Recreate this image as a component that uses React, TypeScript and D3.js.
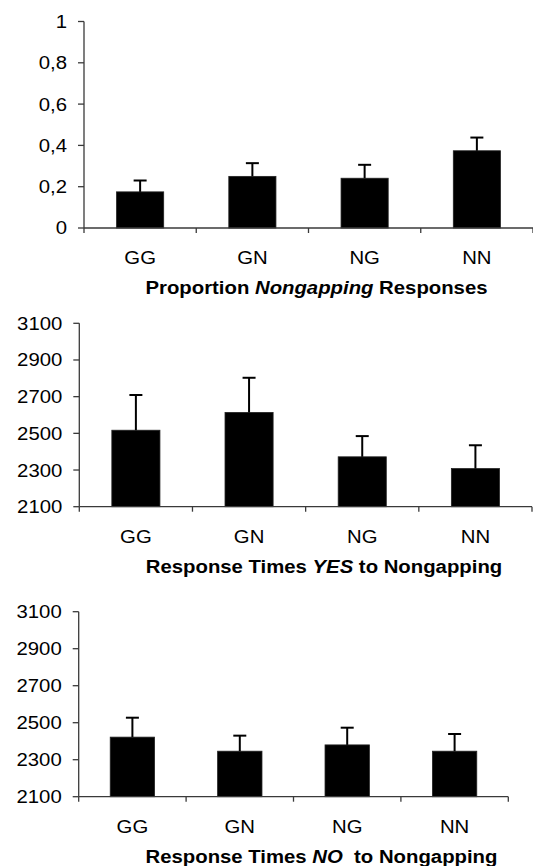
import React from 'react';
import * as d3 from 'd3';

const categories = ['GG', 'GN', 'NG', 'NN'];

// proportion of nongapping responses
const propMeans = [0.175, 0.25, 0.241, 0.374];
const propErrors = [0.055, 0.064, 0.065, 0.064];
const propTicks = [0, 0.2, 0.4, 0.6, 0.8, 1];

// response times, YES
const yesMeans = [2517, 2614, 2372, 2308];
const yesErrors = [192, 189, 113, 127];

// response times, NO
const noMeans = [2422, 2346, 2380, 2346];
const noErrors = [105, 84, 93, 93];

const rtTicks = [2100, 2300, 2500, 2700, 2900, 3100];

const FONT = '"Liberation Sans", Arial, Helvetica, sans-serif';
const FS = 18;      // font size
const SX = 1.13;    // the source picture is a bit stretched sideways
const commaFmt = d3.formatLocale({ decimal: ',', thousands: '.', grouping: [3], currency: ['', ''] }).format('~g');

type TitlePart = { text: string; italic?: boolean };

type PanelProps = {
  means: number[];
  errors: number[];
  domain: [number, number];
  ticks: number[];
  fmt: (v: number) => string;
  x0: number;
  x1: number;
  yTop: number;
  yBottom: number;
  pad: number;
  title: TitlePart[];
  titleX: number;
};

const at = (x: number, y: number) => `translate(${x},${y}) scale(${SX},1)`;

const Panel = ({ means, errors, domain, ticks, fmt, x0, x1, yTop, yBottom, pad, title, titleX }: PanelProps) => {
  const x = d3.scaleBand<string>().domain(categories).range([x0, x1]).paddingInner(pad).paddingOuter(pad / 2);
  const y = d3.scaleLinear().domain(domain).range([yBottom, yTop]);
  const step = x.step();
  const axisColor = '#3a3a3a';
  const cap = 6.5;

  return (
    <g>
      {/* bars */}
      {categories.map((c, i) => (
        <rect key={c} x={x(c)} y={y(means[i])} width={x.bandwidth()} height={y(domain[0]) - y(means[i])}
          fill="#000" stroke="#222" strokeWidth={0.8} />
      ))}
      {/* error bars, upper half only */}
      {categories.map((c, i) => {
        const cx = (x(c) as number) + x.bandwidth() / 2;
        return (
          <g key={c + 'e'} stroke="#000" strokeWidth={2}>
            <line x1={cx} x2={cx} y1={y(means[i])} y2={y(means[i] + errors[i])} />
            <line x1={cx - cap} x2={cx + cap} y1={y(means[i] + errors[i])} y2={y(means[i] + errors[i])} />
          </g>
        );
      })}
      {/* y axis */}
      <line x1={x0} x2={x0} y1={y(domain[1])} y2={yBottom} stroke={axisColor} strokeWidth={1.3} />
      {ticks.map(t => (
        <g key={t}>
          <line x1={x0 - 6} x2={x0} y1={y(t)} y2={y(t)} stroke={axisColor} strokeWidth={1.3} />
          <text transform={at(x0 - 17, y(t))} dy="0.36em" textAnchor="end" fontSize={FS} fill="#000">{fmt(t)}</text>
        </g>
      ))}
      {/* x axis */}
      <line x1={x0} x2={x1} y1={yBottom} y2={yBottom} stroke={axisColor} strokeWidth={1.3} />
      {d3.range(categories.length + 1).map(k => (
        <line key={k} x1={x0 + k * step} x2={x0 + k * step} y1={yBottom} y2={yBottom + 5} stroke={axisColor} strokeWidth={1.3} />
      ))}
      {categories.map(c => (
        <text key={c + 't'} transform={at((x(c) as number) + x.bandwidth() / 2, yBottom + 36)} textAnchor="middle" fontSize={FS} fill="#000">{c}</text>
      ))}
      <text transform={at(titleX, yBottom + 66)} textAnchor="middle" fontSize={FS} fontWeight="bold" fill="#000" style={{ whiteSpace: 'pre' }}>
        {title.map((p, i) => (
          <tspan key={i} fontStyle={p.italic ? 'italic' : 'normal'}>{p.text}</tspan>
        ))}
      </text>
    </g>
  );
};

export default function App() {
  return (
    <svg width={533} height={866} style={{ position: 'absolute', left: 0, top: 0, background: '#fff', fontFamily: FONT }}>
      <rect width={533} height={866} fill="#fff" />
      <Panel means={propMeans} errors={propErrors} domain={[0, 1]} ticks={propTicks} fmt={commaFmt}
        x0={84} x1={533} yTop={21.5} yBottom={228} pad={0.58}
        title={[{ text: 'Proportion ' }, { text: 'Nongapping', italic: true }, { text: ' Responses' }]} titleX={316.5} />
      <Panel means={yesMeans} errors={yesErrors} domain={[2100, 3100]} ticks={rtTicks} fmt={d3.format('d')}
        x0={79.3} x1={532} yTop={323.3} yBottom={506.7} pad={0.575}
        title={[{ text: 'Response Times ' }, { text: 'YES', italic: true }, { text: ' to Nongapping' }]} titleX={324} />
      <Panel means={noMeans} errors={noErrors} domain={[2100, 3100]} ticks={rtTicks} fmt={d3.format('d')}
        x0={78.7} x1={508.3} yTop={611.7} yBottom={796.7} pad={0.587}
        title={[{ text: 'Response Times ' }, { text: 'NO', italic: true }, { text: '  to Nongapping' }]} titleX={321.5} />
    </svg>
  );
}
